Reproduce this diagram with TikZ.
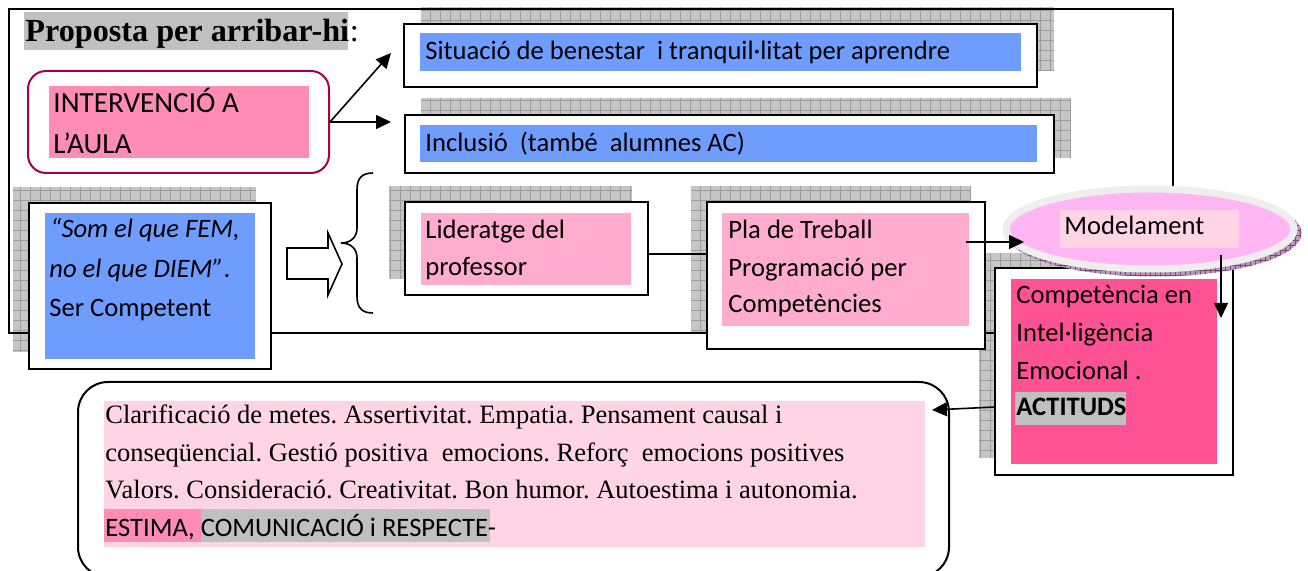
\documentclass[tikz,border=0pt]{standalone}
\usepackage{fontspec}
\setmainfont{Liberation Serif}
\newfontfamily\calfont{Carlito}
\usetikzlibrary{arrows.meta,shapes.geometric,fit}
\definecolor{hlblue}{HTML}{6E9CFF}
\definecolor{hlpink}{HTML}{FF8CB4}
\definecolor{hllight}{HTML}{FFACCE}
\definecolor{hlhot}{HTML}{FF5294}
\definecolor{hlpale}{HTML}{FFD5E6}
\definecolor{hlgray}{HTML}{C0C0C0}
\definecolor{ellpink}{HTML}{FFB6F2}
\definecolor{ringgray}{HTML}{EEEEEE}
\definecolor{crimsonb}{HTML}{A5004A}
\definecolor{shfillc}{HTML}{C6C6C6}
\definecolor{shlinec}{HTML}{9C9C9C}
\definecolor{elshfill}{HTML}{B898B8}
\definecolor{elshline}{HTML}{7A4A7A}
\newcommand\gridshadow[4]{%
  \fill[shfillc] (#1,#2) rectangle (#3,#4);
  \draw[shlinec,line width=0.35pt,step=5pt] (#1,#4) grid (#3,#2);
}
\frenchspacing
\begin{document}
\begin{tikzpicture}[x=0.5pt,y=-0.5pt,
  box/.style={draw=black,line width=1pt,fill=white,inner sep=0pt},
  arr/.style={line width=0.8pt,-{Triangle[length=7.5pt,width=7pt]}},
  cal/.style={font=\calfont\fontsize{13.3}{16}\selectfont,anchor=base west,inner sep=0pt},
  calbig/.style={font=\calfont\fontsize{14.6}{17}\selectfont,anchor=base west,inner sep=0pt},
  tms/.style={font=\fontsize{13.25}{16}\selectfont,anchor=base west,inner sep=0pt},
]
\useasboundingbox (0,0) rectangle (1308,571);

% shadows
\gridshadow{421}{7}{1054}{71}
\gridshadow{421}{98}{1071}{158}
\gridshadow{13}{187}{256}{352}
\gridshadow{389}{186}{632}{279}
\gridshadow{691}{186}{970}{333}
\gridshadow{979}{253}{1217}{458}

% outer frame
\draw[line width=1pt] (9,9) rectangle (1173,333);

% title
\fill[hlgray] (24,12) rectangle (348,50);
\node[anchor=base west,inner sep=0pt,font=\fontsize{16.1}{18}\selectfont\bfseries] (title) at (25,42) {Proposta per arribar-hi};
\node[anchor=base west,inner sep=0pt,font=\fontsize{16.1}{18}\selectfont] (colon) at (title.base east) {:};

% intervencio
\node[draw=crimsonb,line width=1pt,rounded corners=9pt,fill=white,inner sep=0pt,fit={(28,71) (329,173)}] (interv) {};
\fill[hlpink] (49,86) rectangle (309,158);
\node[calbig] (int1) at (53,113) {INTERVENCIÓ A};
\node[calbig] (int2) at (53,154) {L’AULA};

% situacio
\node[box,fit={(404,24) (1037,87)}] (sit) {};
\fill[hlblue] (420,33) rectangle (1021,71);
\node[cal] (sittxt) at (425,60) {Situació de benestar\ \ i tranquil·litat per aprendre};

% inclusio
\node[box,fit={(405,115) (1054,173)}] (inc) {};
\fill[hlblue] (420,125) rectangle (1037,162);
\node[cal] (inctxt) at (425,152) {Inclusió\ \ (també\ \ alumnes AC)};

% arrows from intervencio
\coordinate (sitend) at (391,53);
\coordinate (incend) at (391,121);
\draw[arr] (interv.east) -- (sitend);
\draw[arr] (interv.east) -- (interv.east -| incend);

% som el que fem
\node[box,fit={(29,203) (271,369)}] (som) {};
\fill[hlblue] (45,213) rectangle (255,359);
\node[cal] (som1) at (50,238) {\itshape “Som el que FEM,};
\node[cal] (som2) at (49,278) {{\itshape no el que DIEM”}.};
\node[cal] (som3) at (49,317) {Ser Competent};

% block arrow
\draw[line width=0.8pt,fill=white] (287,248) -- (328,248) -- (328,233) -- (342,264) -- (328,295) -- (328,279) -- (287,279) -- cycle;

% brace
\draw[line width=0.8pt] (373,173) .. controls (362,173) and (357,178) .. (357,190) -- (357,228) .. controls (357,238) and (350,243) .. (341,243) .. controls (350,243) and (357,248) .. (357,258) -- (357,296) .. controls (357,308) and (362,313) .. (373,313);

% lideratge
\node[box,fit={(405,202) (648,295)}] (lid) {};
\fill[hllight] (421,213) rectangle (631,285);
\node[cal] (lid1) at (425,239) {Lideratge del};
\node[cal] (lid2) at (425,276) {professor};

% pla
\node[box,fit={(707,202) (985,349)}] (pla) {};
\fill[hllight] (722,213) rectangle (969,326);
\node[cal] (pla1) at (728,239) {Pla de Treball};
\node[cal] (pla2) at (728,277) {Programació per};
\node[cal] (pla3) at (728,313) {Competències};

\coordinate (lidout) at (648,254);
\draw[line width=1pt] (lidout) -- (lidout -| pla.west);

% competencia
\node[box,fit={(995,268) (1233,475)}] (comp) {};
\fill[hlhot] (1011,279) rectangle (1217,464);
\fill[hlgray] (1015,392) rectangle (1126,425);
\node[cal] (comp1) at (1016,304) {Competència en};
\node[cal] (comp2) at (1016,342) {Intel·ligència};
\node[cal] (comp3) at (1016,380) {Emocional .};
\node[cal,font=\calfont\bfseries\fontsize{13.3}{16}\selectfont] (comp4) at (1016,416) {ACTITUDS};

% ellipse shadow
\begin{scope}
\clip (1154,233) ellipse [x radius=147.5, y radius=43.5];
\fill[elshfill] (1000,180) rectangle (1310,285);
\draw[elshline,line width=0.3pt,step=2.5pt] (1000,285) grid (1310,180);
\end{scope}
% ellipse
\node[ellipse,draw=ringgray,line width=3.5pt,fill=ellpink,minimum width=144pt,minimum height=40pt,inner sep=0pt] (model) at (1150,229) {};
\fill[hlpale] (1060,210) rectangle (1239,248);
\node[cal] (modtxt) at (1064,235) {Modelament};

% arrows right
\coordinate (plaout) at (966,242);
\draw[arr] (plaout) -- ++(58,0);
\coordinate (modout) at (1221,255);
\draw[arr] (modout) -- ++(0,63);

% clarificacio
\node[draw=black,line width=1pt,rounded corners=15pt,fill=white,inner sep=0pt,fit={(78,382) (949,577)}] (clar) {};
\fill[hlpale] (104,401) rectangle (925,547);
\fill[hlpink] (104,509) rectangle (201,542);
\fill[hlgray] (201,509) rectangle (490,542);
\node[tms] (cl1) at (105,424) {Clarificació de metes. Assertivitat. Empatia. Pensament causal i};
\node[tms] (cl2) at (105,461.5) {conseqüencial. Gestió positiva\ \ emocions. Reforç\ \ emocions positives};
\node[tms] (cl3) at (105,499) {Valors. Consideració. Creativitat. Bon humor. Autoestima i autonomia.};
\node[cal] (cl4) at (105,536.5) {ESTIMA, COMUNICACIÓ i RESPECTE-};

\coordinate (compout) at (995,407);
\coordinate (clarin) at (932,410);
\draw[arr] (compout) -- (clarin);
\end{tikzpicture}
\end{document}
